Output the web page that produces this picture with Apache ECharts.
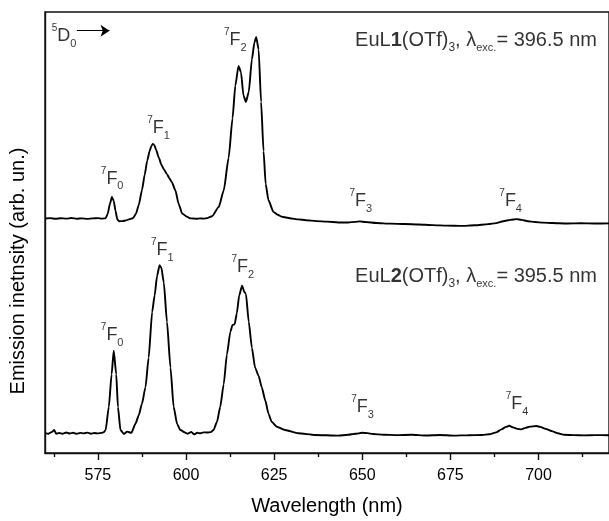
<!DOCTYPE html>
<html>
<head>
<meta charset="utf-8">
<script src="https://cdn.jsdelivr.net/npm/echarts@6.0.0/dist/echarts.min.js"></script>
<style>html,body{margin:0;padding:0;background:#fff;}#chart{width:609px;height:521px;}</style>
</head>
<body>
<div id="chart"></div>
<script>
// ---------- data ----------
const xMajorTicks = [575, 600, 625, 650, 675, 700];
const xMinorTicks = [562.5, 587.5, 612.5, 637.5, 662.5, 687.5, 712.5];

// EuL1(OTf)3 (upper, offset trace)
const eul1Wavelength = [
  560,561.5,563,564.5,566,567.5,569,570.5,572,573.5,575,576.2,577.2,577.8,578.4,579.0,579.5,580.0,580.5,581.0,582.0,583.0,584.0,585.0,
  585.8,586.6,587.5,588.3,589.0,589.7,590.2,590.6,591.0,591.5,592.3,593.0,593.7,594.6,595.3,596.0,597.0,597.9,598.9,600.3,601.1,602,603,604,605,606,
  607.4,609.3,610.7,612.1,613.2,614.0,614.9,615.6,616.3,617.0,617.8,618.7,619.4,619.9,620.6,621.3,622.0,622.6,623.4,624.8,626,627.2,629.5,631.9,634,637,640,643.2,
  646,648,649.3,651,654,658,662,666,670,674,678,682,685.7,688,690,692,693.8,695.2,697,699,701.3,704,708,712,716,720
];
const eul1Intensity = [
  238.2,238.6,237.9,238.5,238.1,238.7,238.0,238.4,237.8,238.3,238.6,238.1,238.5,243,253,260,256,246,237.5,235.5,235.6,236.3,237.6,238.8,
  243,252,267,283,297,307,312,314,313,308,300,293,288.3,283.3,279,275,266.7,253.3,243.3,240,238.5,238.2,237.9,238.3,238.1,238.6,
  240.5,250,266.7,300,340,373.3,393.3,386.7,363.3,356.7,366.7,400,416.7,422.7,410,356.7,306.7,273.3,256.7,245,242,240,238.5,237.3,236.5,235.6,235,234.2,
  234.2,234.8,235.3,234.6,233.6,233,232.6,232.2,231.5,231,230.7,231.3,232.5,233.5,235.5,236.8,237.6,236.8,235.5,234.6,234,233.6,233.1,233.4,233.1,233.3
];

// EuL2(OTf)3 (lower trace)
const eul2Wavelength = [
  560,561,562,562.6,563.2,564,565,566,567,568,569,570,571,572,573,574,575,576,576.6,
  577.2,578.1,578.9,579.5,580.2,580.7,581.4,582.4,583.3,584.5,
  585.7,586.6,587.5,588.5,589.4,590.4,591.1,591.8,592.5,593.0,593.7,594.6,595.6,596.5,597.5,598.4,599.8,600.5,601.5,602.3,603.2,604,605,606,607,
  607.8,608.8,609.7,610.7,611.6,612.6,613.2,613.8,614.4,615.1,615.9,616.6,617.0,617.8,618.7,619.6,620.6,621.5,622.5,623.4,624.3,625.8,628.1,631.9,636.6,643.2,
  646,648,650,651.5,653,656,660,664,668,672,676,680,684,686,688,689.5,690.8,691.7,692.8,694,695.1,696.3,697.5,699.4,700.5,702,704,705.5,707.3,710,713,716,720
];
const eul2Intensity = [
  20.2,19.6,21.5,23.5,19.5,20.3,19.6,20.8,19.8,20.6,19.5,20.4,19.9,20.7,19.6,20.3,19.9,20.4,21,
  23.3,46.7,80,104,80,46.7,23.3,19.3,21.7,20.5,
  30,38.3,50,66.7,96.7,143.3,160,180,190.7,188.3,173.3,133.3,86.7,46.7,29.3,23.3,20.7,19.5,21.5,19,20.5,20,21,20.8,21.2,
  23.3,31.7,46.7,70,100,123.3,130,130.7,141.7,160,170,163.3,161.7,133.3,106.7,86.7,78.3,66.7,53.3,40,31.7,26.7,23.3,20,18.3,17.7,
  18.5,19.5,20.5,20.2,19.3,18.6,18.2,18.5,17.8,18.3,17.7,18.1,18.3,19,21,24,26.5,27.7,26,24.5,24,25.5,26.8,27.4,26.5,24.5,22,20,18.5,18.2,17.9,18.2,18
];

// transition labels: [superscript, letter, subscript, wavelength, intensity]
const transitionLabels = [
  ['5','D','0',565.4,423.5],
  ['7','F','0',579.05,278.5],
  ['7','F','1',592.2,330],
  ['7','F','2',614.0,419.5],
  ['7','F','3',649.6,255.8],
  ['7','F','4',692.1,255.8],
  ['7','F','0',579.05,119.5],
  ['7','F','1',593.3,205.7],
  ['7','F','2',616.1,188.5],
  ['7','F','3',650.1,46.7],
  ['7','F','4',693.9,49.5]
];
// sample labels: [ligand number, excitation wavelength, wavelength of right edge, intensity]
const sampleLabels = [
  ['1','396.5',716.6,419],
  ['2','395.5',716.6,179]
];
// arrow after 5D0
const arrowStart = [569.05, 429];
const arrowEnd = [578.3, 429];

// ---------- chart ----------
const FONT = '"Liberation Sans", Arial, Helvetica, sans-serif';
const INK = '#000';
const pairs = (xs, ys) => xs.map((x, i) => [x, ys[i]]);

const annoData = transitionLabels.map(t => ({
  value: [t[3], t[4]],
  label: { formatter: '{sup|' + t[0] + '}{F|' + t[1] + '}{sub|' + t[2] + '}', position: 'inside' }
})).concat(sampleLabels.map(s => ({
  value: [s[2], s[3]],
  label: {
    formatter: '{n|EuL}{bd|' + s[0] + '}{n|(OTf)}{sb|3}{n|, λ}{sx|exc.}{n|= ' + s[1] + ' nm}',
    position: 'left', distance: 0
  }
})));

const chart = echarts.init(document.getElementById('chart'), null, { renderer: 'canvas' });
chart.setOption({
  animation: false,
  backgroundColor: '#fff',
  grid: { left: 45, right: -1, top: 12, bottom: 61, show: true, borderColor: '#111', borderWidth: 1.4, backgroundColor: 'transparent' },
  xAxis: [{
    type: 'value', min: 560, max: 720, position: 'bottom',
    axisLine: { show: true, lineStyle: { color: '#111', width: 1.4 } },
    axisTick: { show: true, customValues: xMajorTicks, length: 7, lineStyle: { color: '#111', width: 1.4 } },
    axisLabel: { customValues: xMajorTicks, fontSize: 16, margin: 15, color: INK, fontFamily: FONT },
    splitLine: { show: false },
    name: 'Wavelength (nm)', nameLocation: 'middle', nameGap: 43,
    nameTextStyle: { fontSize: 20, color: INK, fontFamily: FONT }
  }, {
    type: 'value', min: 560, max: 720, position: 'bottom',
    axisLine: { show: false },
    axisTick: { show: true, customValues: xMinorTicks, length: 4, lineStyle: { color: '#111', width: 1.4 } },
    axisLabel: { show: false },
    splitLine: { show: false }
  }],
  yAxis: {
    type: 'value', min: 0, max: 448,
    axisLine: { show: true, lineStyle: { color: '#111', width: 1.4 } },
    axisTick: { show: false }, axisLabel: { show: false }, splitLine: { show: false }
  },
  graphic: [{
    type: 'text', x: 18, y: 271, rotation: Math.PI / 2,
    style: { text: 'Emission inetnsity (arb. un.)', fontSize: 20, fontFamily: FONT, fill: INK, align: 'center', verticalAlign: 'middle' }
  }],
  series: [{
    name: 'EuL1(OTf)3', type: 'line', data: pairs(eul1Wavelength, eul1Intensity),
    showSymbol: false, symbol: 'none', smooth: 0.2, smoothMonotone: 'x',
    lineStyle: { color: INK, width: 1.9 },
    markLine: {
      silent: true, symbol: ['none', 'arrow'], symbolSize: 9, animation: false,
      lineStyle: { color: INK, width: 1.2, type: 'solid' }, label: { show: false },
      data: [[{ coord: arrowStart }, { coord: arrowEnd }]]
    }
  }, {
    name: 'EuL2(OTf)3', type: 'line', data: pairs(eul2Wavelength, eul2Intensity),
    showSymbol: false, symbol: 'none', smooth: 0.2, smoothMonotone: 'x',
    lineStyle: { color: INK, width: 1.9 }
  }, {
    name: 'labels', type: 'scatter', symbolSize: 0, silent: true, data: annoData,
    label: {
      show: true, color: INK, fontFamily: FONT,
      rich: {
        sup: { fontSize: 10, lineHeight: 16, verticalAlign: 'top', color: INK, fontFamily: FONT },
        F: { fontSize: 18, lineHeight: 26, color: INK, fontFamily: FONT },
        sub: { fontSize: 11, lineHeight: 14, verticalAlign: 'bottom', color: INK, fontFamily: FONT },
        n: { fontSize: 20, lineHeight: 26, color: INK, fontFamily: FONT },
        bd: { fontSize: 20, lineHeight: 26, fontWeight: 'bold', color: INK, fontFamily: FONT },
        sb: { fontSize: 12, lineHeight: 14, verticalAlign: 'bottom', color: INK, fontFamily: FONT },
        sx: { fontSize: 11, lineHeight: 14, verticalAlign: 'bottom', color: INK, fontFamily: FONT }
      }
    }
  }]
});
</script>
</body>
</html>
